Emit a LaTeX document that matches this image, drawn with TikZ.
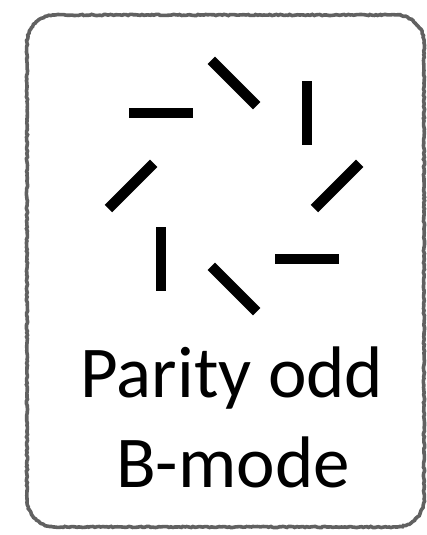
\documentclass[tikz,border=0pt]{standalone}
\usepackage{fontspec}
\setmainfont{Carlito}
\usetikzlibrary{decorations.pathmorphing}
\begin{document}
\begin{tikzpicture}[x=1pt,y=1pt,
  bar/.style={line width=10.5pt, black, line cap=butt},
  frame/.style={draw=black!62, line width=3.6pt, decorate,
    decoration={random steps, segment length=2pt, amplitude=0.6pt}},
  lbl/.style={font=\fontsize{73}{90}\selectfont, anchor=base, inner sep=0pt}]
\useasboundingbox (0,0) rectangle (426,535);
\draw[frame] (27,492) -- (27,36) arc[start angle=180,end angle=270,radius=28]
  -- (396,8) arc[start angle=270,end angle=360,radius=28]
  -- (424,492) arc[start angle=0,end angle=90,radius=28]
  -- (55,520) arc[start angle=90,end angle=180,radius=28] -- cycle;
\begin{scope}[shift={(234,349)}]
  \foreach \t in {0,45,...,315}
    \draw[bar] (\t:103) ++(\t+45:32) -- ++(\t+225:64);
\end{scope}
\node[lbl] (parity) at (232,137) {Parity odd};
\node[lbl] (bmode) at (233,47) {B-mode};
\end{tikzpicture}
\end{document}
